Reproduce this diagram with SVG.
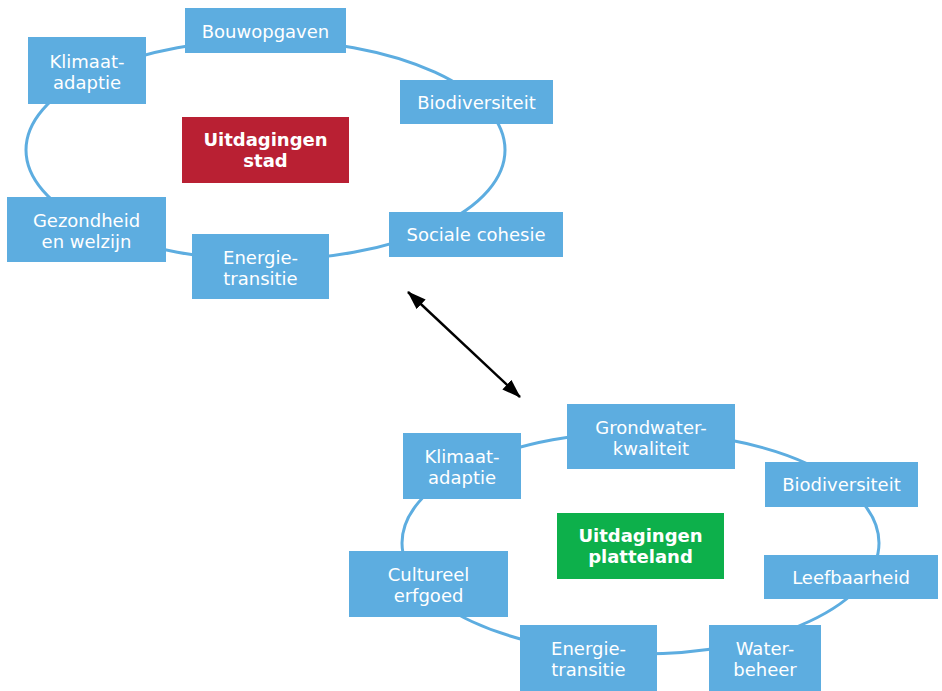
<svg xmlns="http://www.w3.org/2000/svg" width="942" height="691" viewBox="0 0 942 691">
  <style>
    .ring { fill: none; stroke: #5DADE0; stroke-width: 3; }
    .node rect { fill: #5DADE0; }
    .node text { fill: #FFFFFF; font-family: "DejaVu Sans", Verdana, sans-serif; font-size: 18px; text-anchor: middle; }
    .hub text { fill: #FFFFFF; font-family: "DejaVu Sans", Verdana, sans-serif; font-size: 18px; font-weight: bold; text-anchor: middle; }
    .link { stroke: #000000; stroke-width: 2.5; fill: none; }
  </style>
  <defs>
    <marker id="head" viewBox="0 0 10 7" refX="9.5" refY="3.5" markerWidth="7.6" markerHeight="5.3" orient="auto-start-reverse" markerUnits="strokeWidth">
      <path d="M0,0 L10,3.5 L0,7 z" fill="#000000"/>
    </marker>
  </defs>

  <rect width="942" height="691" fill="#FFFFFF"/>

  <!-- connectors: the two rings and the link between them -->
  <g id="connectors">
    <ellipse class="ring" cx="265.5" cy="150" rx="239.5" ry="110"/>
    <ellipse class="ring" cx="640.5" cy="543" rx="238.5" ry="111"/>
    <line class="link" x1="408" y1="292" x2="520" y2="397" marker-start="url(#head)" marker-end="url(#head)"/>
  </g>

  <!-- city cluster -->
  <g id="stad-hub" class="hub">
    <rect x="182" y="117" width="167" height="66" fill="#B92033"/>
    <text x="265.5" y="146">Uitdagingen</text>
    <text x="265.5" y="167">stad</text>
  </g>
  <g id="stad-bouwopgaven" class="node">
    <rect x="185" y="8" width="161" height="45"/>
    <text x="265.5" y="37.5">Bouwopgaven</text>
  </g>
  <g id="stad-klimaatadaptie" class="node">
    <rect x="28" y="37" width="118" height="67"/>
    <text x="87" y="67.5">Klimaat-</text>
    <text x="87" y="88.5">adaptie</text>
  </g>
  <g id="stad-biodiversiteit" class="node">
    <rect x="400" y="80" width="153" height="44"/>
    <text x="476.5" y="108.5">Biodiversiteit</text>
  </g>
  <g id="stad-gezondheid" class="node">
    <rect x="7" y="197" width="159" height="65"/>
    <text x="86.5" y="226.5">Gezondheid</text>
    <text x="86.5" y="247.5">en welzijn</text>
  </g>
  <g id="stad-energietransitie" class="node">
    <rect x="192" y="234" width="137" height="65"/>
    <text x="260.5" y="263.5">Energie-</text>
    <text x="260.5" y="284.5">transitie</text>
  </g>
  <g id="stad-socialecohesie" class="node">
    <rect x="389" y="212" width="174" height="45"/>
    <text x="476" y="241">Sociale cohesie</text>
  </g>

  <!-- countryside cluster -->
  <g id="platteland-hub" class="hub">
    <rect x="557" y="513" width="167" height="66" fill="#0DB04B"/>
    <text x="640.5" y="542">Uitdagingen</text>
    <text x="640.5" y="563">platteland</text>
  </g>
  <g id="platteland-grondwater" class="node">
    <rect x="567" y="404" width="168" height="65"/>
    <text x="651" y="433.5">Grondwater-</text>
    <text x="651" y="454.5">kwaliteit</text>
  </g>
  <g id="platteland-klimaatadaptie" class="node">
    <rect x="403" y="433" width="118" height="66"/>
    <text x="462" y="463">Klimaat-</text>
    <text x="462" y="484">adaptie</text>
  </g>
  <g id="platteland-biodiversiteit" class="node">
    <rect x="765" y="462" width="153" height="45"/>
    <text x="841.5" y="490.5">Biodiversiteit</text>
  </g>
  <g id="platteland-cultureelerfgoed" class="node">
    <rect x="349" y="551" width="159" height="66"/>
    <text x="428.5" y="581">Cultureel</text>
    <text x="428.5" y="602">erfgoed</text>
  </g>
  <g id="platteland-leefbaarheid" class="node">
    <rect x="764" y="555" width="174" height="44"/>
    <text x="851" y="583.5">Leefbaarheid</text>
  </g>
  <g id="platteland-energietransitie" class="node">
    <rect x="520" y="625" width="137" height="66"/>
    <text x="588.5" y="655">Energie-</text>
    <text x="588.5" y="676">transitie</text>
  </g>
  <g id="platteland-waterbeheer" class="node">
    <rect x="709" y="625" width="112" height="66"/>
    <text x="765" y="655">Water-</text>
    <text x="765" y="676">beheer</text>
  </g>
</svg>
